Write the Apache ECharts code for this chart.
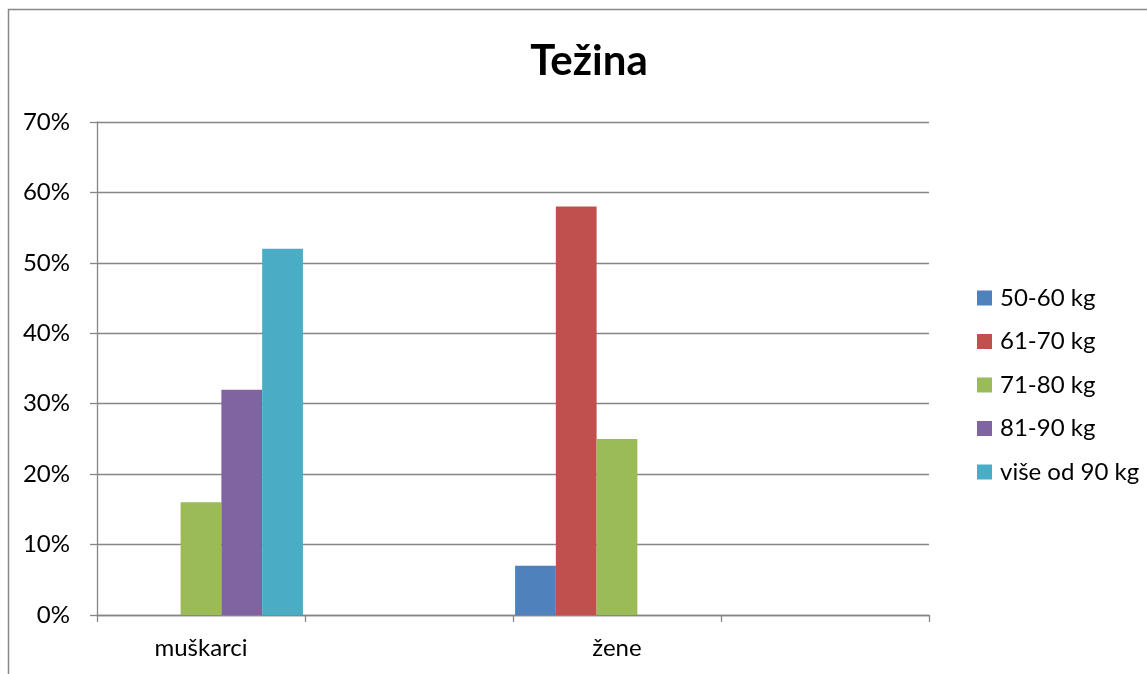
<!DOCTYPE html>
<html>
<head>
<meta charset="utf-8">
<script src="https://cdn.jsdelivr.net/npm/echarts@6/dist/echarts.min.js"></script>
<style>html,body{margin:0;padding:0;background:#fff;}#c{width:1147px;height:674px;}</style>
</head>
<body>
<div id="c"></div>
<script>
var categories = ['muškarci', '', 'žene', ''];
var seriesNames = ['50-60 kg', '61-70 kg', '71-80 kg', '81-90 kg', 'više od 90 kg'];
var s5060 = [0, '-', 7, '-'];
var s6170 = [0, '-', 58, '-'];
var s7180 = [16, '-', 25, '-'];
var s8190 = [32, '-', 0, '-'];
var s90plus = [52, '-', 0, '-'];
var colors = ['#4F81BD', '#C0504D', '#9BBB59', '#8064A2', '#4BACC6'];
var values = [s5060, s6170, s7180, s8190, s90plus];

var font = 'Lato, "Liberation Sans", sans-serif';
var chart = echarts.init(document.getElementById('c'));
chart.setOption({
  animation: false,
  color: colors,
  title: {
    text: 'Težina', left: 584, top: 35, textAlign: 'center',
    textStyle: {fontFamily: font, fontSize: 42, fontWeight: 'bold', color: '#000'}
  },
  graphic: [{
    type: 'rect', shape: {x: 8.5, y: 9.5, width: 1200, height: 700},
    style: {fill: 'none', stroke: '#888', lineWidth: 1.5}, silent: true, z: -1
  }],
  legend: {
    orient: 'vertical', left: 972, top: 281,
    itemWidth: 15, itemHeight: 15, itemGap: 19.5, icon: 'rect',
    textStyle: {fontFamily: font, fontSize: 24, lineHeight: 24, color: '#000', padding: [0, 0, 0, 3]},
    data: seriesNames
  },
  grid: {left: 97, right: 218, top: 122, bottom: 59, containLabel: false},
  xAxis: {
    type: 'category', data: categories,
    axisLine: {lineStyle: {color: '#868686', width: 1.3}},
    axisTick: {show: true, length: 7, lineStyle: {color: '#868686', width: 1.3}},
    axisLabel: {fontFamily: font, fontSize: 24, color: '#000', margin: 21, interval: 0}
  },
  yAxis: {
    type: 'value', min: 0, max: 70, interval: 10,
    axisLine: {show: true, lineStyle: {color: '#868686', width: 1.3}},
    axisTick: {show: true, length: 7, lineStyle: {color: '#868686', width: 1.3}},
    splitLine: {lineStyle: {color: '#868686', width: 1.3}},
    axisLabel: {fontFamily: font, fontSize: 24, color: '#000', margin: 27, formatter: '{value}%'}
  },
  series: seriesNames.map(function (n, i) {
    return {name: n, type: 'bar', data: values[i], barGap: '0%', barCategoryGap: '2%', itemStyle: {color: colors[i]}};
  })
});
</script>
</body>
</html>
